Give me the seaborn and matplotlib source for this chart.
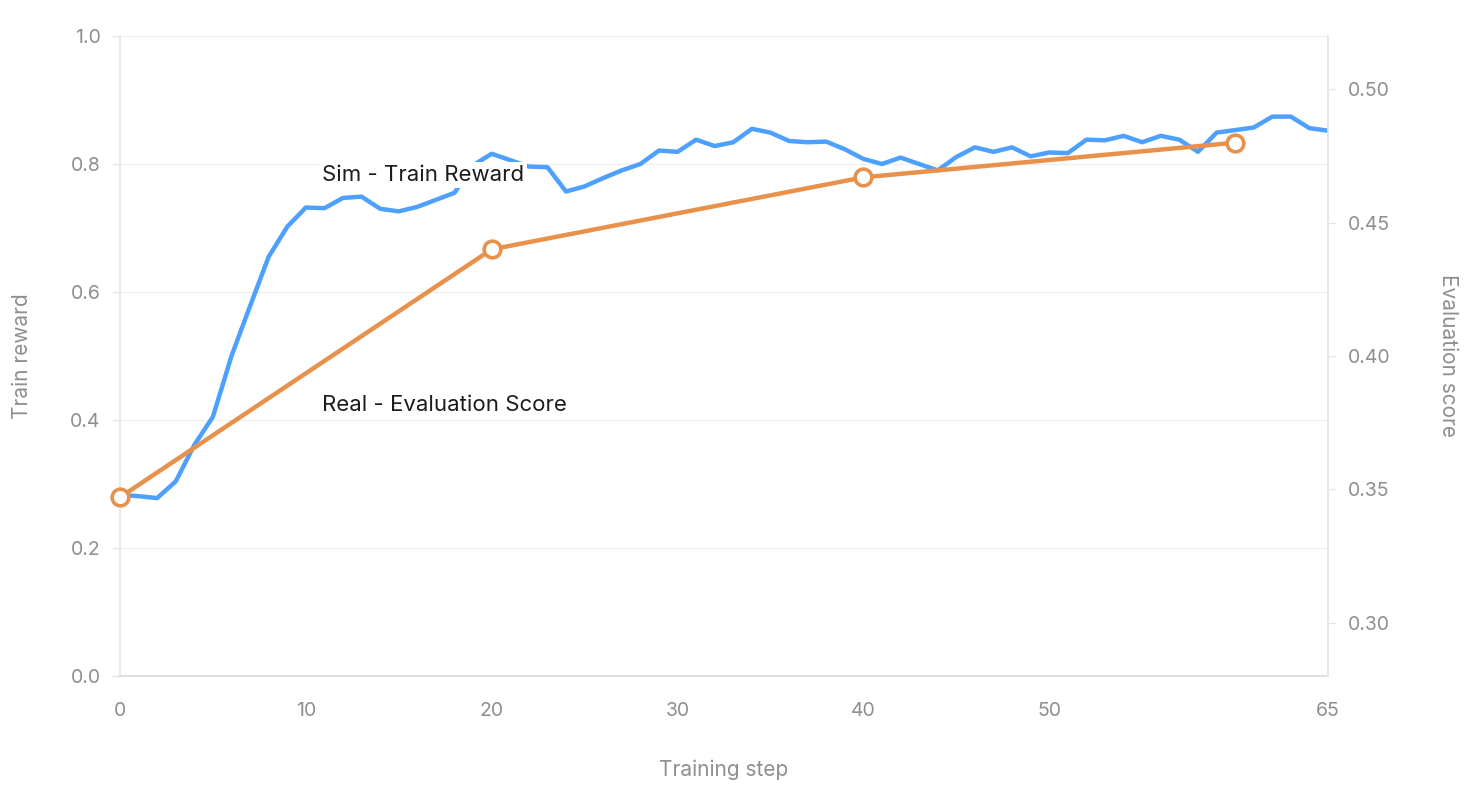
import numpy as np
import pandas as pd
import matplotlib
matplotlib.use("Agg")
import matplotlib.pyplot as plt
import seaborn as sns

# sim train reward, one value per training step 0..65
train_steps = list(range(0, 66))
train_reward = [
    0.283, 0.281, 0.278, 0.304, 0.361, 0.405, 0.500, 0.578, 0.655, 0.702,
    0.732, 0.731, 0.747, 0.749, 0.730, 0.726, 0.733, 0.744, 0.755, 0.798,
    0.816, 0.806, 0.796, 0.795, 0.757, 0.765, 0.778, 0.790, 0.800, 0.821,
    0.819, 0.838, 0.828, 0.834, 0.855, 0.849, 0.836, 0.834, 0.835, 0.823,
    0.808, 0.800, 0.810, 0.800, 0.790, 0.811, 0.826, 0.819, 0.826, 0.812,
    0.818, 0.817, 0.838, 0.837, 0.844, 0.834, 0.844, 0.838, 0.819, 0.849,
    0.853, 0.857, 0.874, 0.874, 0.856, 0.852,
]

# real evaluation score
eval_steps = [0, 20, 40, 60]
eval_score = [0.347, 0.440, 0.467, 0.480]

x_ticks = [0, 10, 20, 30, 40, 50, 65]
left_ticks = [0.0, 0.2, 0.4, 0.6, 0.8, 1.0]
right_ticks = [0.30, 0.35, 0.40, 0.45, 0.50]

train_df = pd.DataFrame({"step": train_steps, "reward": train_reward})
eval_df = pd.DataFrame({"step": eval_steps, "score": eval_score})

sns.set_theme(style="white")
plt.rcParams["font.family"] = ["Inter", "DejaVu Sans"]

BLUE = "#4DA0FD"
ORANGE = "#E8914A"
GRAY = "#8E8E93"
SPINE = "#E6E6E6"

fig = plt.figure(figsize=(14.72, 8), dpi=100)
ax = fig.add_axes([0.0815, 0.155, 0.8207, 0.80])

sns.lineplot(data=train_df, x="step", y="reward", ax=ax, color=BLUE,
             linewidth=3.2, zorder=3)
ax.set_xlim(0, 65)
ax.set_ylim(0, 1.0)
ax.set_xticks(x_ticks)
ax.set_yticks(left_ticks)
ax.set_yticklabels([f"{v:.1f}" for v in left_ticks])
ax.grid(axis="y", color="#F0F0F0", linewidth=1)
ax.grid(axis="x", visible=False)
ax.set_axisbelow(True)

ax.spines["top"].set_visible(False)
ax.spines["left"].set_color(SPINE)
ax.spines["right"].set_color(SPINE)
ax.spines["bottom"].set_color("#E0E0E0")
ax.spines["bottom"].set_linewidth(1.5)

ax.tick_params(axis="y", which="both", left=True, length=6, width=1,
               color=SPINE, labelcolor=GRAY, labelsize=14, pad=8)
ax.tick_params(axis="x", bottom=False, labelcolor=GRAY, labelsize=14, pad=13)

ax.set_xlabel("Training step", color=GRAY, fontsize=15)
ax.set_ylabel("Train reward", color=GRAY, fontsize=15, va="center")
ax.xaxis.set_label_coords(0.5, -0.13)
ax.yaxis.set_label_coords(-0.081, 0.5)

ax.text(10.87, 0.783, "Sim - Train Reward", fontsize=16, color="#1C1C1E",
        va="center", ha="left", zorder=10,
        bbox=dict(facecolor="white", edgecolor="none", pad=2))

ax2 = ax.twinx()
sns.lineplot(data=eval_df, x="step", y="score", ax=ax2, color=ORANGE,
             linewidth=3.2, marker="o", markersize=12, markerfacecolor="white",
             markeredgecolor=ORANGE, markeredgewidth=2.6, zorder=4,
             clip_on=False)
ax2.set_ylim(0.28, 0.52)
ax2.set_yticks(right_ticks)
ax2.set_yticklabels([f"{v:.2f}" for v in right_ticks])
ax2.set_xlim(0, 65)
ax2.grid(False)
for side in ["top", "left", "bottom"]:
    ax2.spines[side].set_visible(False)
ax2.spines["right"].set_color(SPINE)
ax2.tick_params(axis="y", right=True, length=6, width=1, color=SPINE,
                labelcolor=GRAY, labelsize=14, pad=8)
ax2.set_ylabel("Evaluation score", color=GRAY, fontsize=15, rotation=-90,
               va="center")
ax2.yaxis.set_label_coords(1.0993, 0.5)
ax2.set_xlabel("")

ax2.text(10.87, 0.28 + 0.4234 * 0.24, "Real - Evaluation Score", fontsize=16,
         color="#1C1C1E", va="center", ha="left", zorder=10,
         bbox=dict(facecolor="white", edgecolor="none", pad=2))

fig.savefig("out.png", dpi=100)
